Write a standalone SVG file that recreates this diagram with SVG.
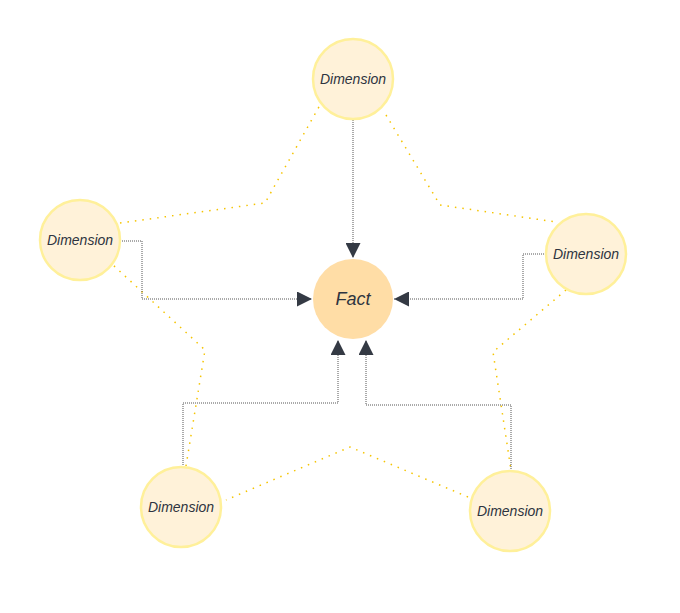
<svg xmlns="http://www.w3.org/2000/svg" width="680" height="613" viewBox="0 0 680 613">
<style>
.dim{fill:#fff2d9;stroke:#fff09a;stroke-width:2.5}
.t{font-family:"Liberation Sans",Arial,sans-serif;font-style:italic;fill:#2e3440;text-anchor:middle;dominant-baseline:central}
.star{fill:none;stroke:#f5c400;stroke-width:1.5;stroke-dasharray:1.5 6}
.c{fill:none;stroke:#555;stroke-width:1;stroke-dasharray:1 1}
</style>
<defs><marker id="a" viewBox="0 0 10 10" refX="10" refY="5" markerWidth="15" markerHeight="15" markerUnits="userSpaceOnUse" orient="auto"><path d="M0,0L10,5L0,10z" fill="#343a44"/></marker></defs>
<rect width="680" height="613" fill="#fff"/>
<g id="star">
<polyline class="star" points="120,223 265,203 320,105"/>
<polyline class="star" points="386,115 440,205 556,222"/>
<polyline class="star" points="566,290 493,352 511,470"/>
<polyline class="star" points="468,497 350,447 226,500"/>
<polyline class="star" points="186,466 205,350 113,265"/>
</g>
<g id="connectors">
<path class="c" d="M353,120V258" marker-end="url(#a)"/>
<path class="c" d="M120,241H142V299H312" marker-end="url(#a)"/>
<path class="c" d="M546,254H523V299H394" marker-end="url(#a)"/>
<path class="c" d="M183,467V403H338V340" marker-end="url(#a)"/>
<path class="c" d="M511,471V405H366V340" marker-end="url(#a)"/>
</g>
<g id="fact"><circle cx="353" cy="299" r="40" fill="#ffdda6"/><text class="t" x="353" y="299" font-size="18">Fact</text></g>
<g id="dim-top"><circle class="dim" cx="353" cy="79" r="40"/><text class="t" x="353" y="79" font-size="14">Dimension</text></g>
<g id="dim-left"><circle class="dim" cx="80" cy="240" r="40"/><text class="t" x="80" y="240" font-size="14">Dimension</text></g>
<g id="dim-right"><circle class="dim" cx="586" cy="254" r="40"/><text class="t" x="586" y="254" font-size="14">Dimension</text></g>
<g id="dim-bl"><circle class="dim" cx="181" cy="507" r="40"/><text class="t" x="181" y="507" font-size="14">Dimension</text></g>
<g id="dim-br"><circle class="dim" cx="510" cy="511" r="40"/><text class="t" x="510" y="511" font-size="14">Dimension</text></g>
</svg>
